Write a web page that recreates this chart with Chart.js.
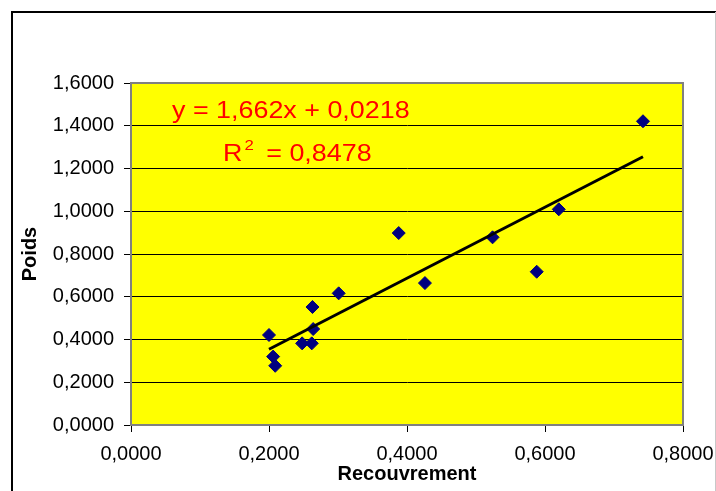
<!DOCTYPE html>
<html lang="fr">
<head>
<meta charset="utf-8">
<title>Poids en fonction du recouvrement</title>
<script src="https://cdn.jsdelivr.net/npm/chart.js@4.4.1/dist/chart.umd.min.js"></script>
<style>
  html, body { margin: 0; padding: 0; background: #fff; }
  #wrap { width: 716px; height: 491px; }
</style>
</head>
<body>
<div id="wrap"><canvas id="nuage" width="716" height="491"></canvas></div>
<script>
// Mesures : recouvrement (x) et poids (y)
const recouvrement = [0.200, 0.206, 0.209, 0.248, 0.262, 0.264, 0.263, 0.301, 0.388, 0.426, 0.524, 0.588, 0.620, 0.742];
const poids        = [0.421, 0.320, 0.277, 0.382, 0.382, 0.449, 0.552, 0.616, 0.898, 0.664, 0.878, 0.717, 1.009, 1.421];

// Courbe de tendance linéaire
const pente = 1.662;
const ordonnee = 0.0218;
const r2 = 0.8478;

// Libellés des axes
const xTicks = ['0,0000', '0,2000', '0,4000', '0,6000', '0,8000'];
const yTicks = ['0,0000', '0,2000', '0,4000', '0,6000', '0,8000', '1,0000', '1,2000', '1,4000', '1,6000'];

const FONT = "'Liberation Sans', Arial, sans-serif";
const ETIRE = 1.12; // texte légèrement élargi, comme dans Excel

const virgule = (v, n) => v.toFixed(n).replace('.', ',');

// Points de la droite aux extrémités des mesures
const xMin = Math.min(...recouvrement);
const xMax = Math.max(...recouvrement);
const droite = [xMin, xMax].map(x => ({ x, y: pente * x + ordonnee }));

// Écrit un texte élargi et renvoie sa largeur à l'écran
function texteLarge(ctx, txt, x, y, size) {
  ctx.save();
  ctx.translate(x, y);
  ctx.scale(ETIRE, 1);
  ctx.font = `${size}px ${FONT}`;
  ctx.fillText(txt, 0, 0);
  const w = ctx.measureText(txt).width * ETIRE;
  ctx.restore();
  return w;
}

// Cadre extérieur, fond jaune de la zone de tracé et équation
const cadrePlugin = {
  id: 'cadre',
  beforeDraw(chart) {
    const { ctx, chartArea: a, width, height } = chart;
    ctx.save();
    ctx.fillStyle = '#fff';
    ctx.fillRect(0, 0, width, height);
    ctx.strokeStyle = '#000';
    ctx.lineWidth = 2;
    ctx.beginPath();
    ctx.moveTo(12, height);
    ctx.lineTo(12, 12);
    ctx.lineTo(width, 12);
    ctx.stroke();
    ctx.strokeStyle = '#c8c8c8';
    ctx.lineWidth = 1;
    ctx.beginPath();
    ctx.moveTo(width - 0.5, 12);
    ctx.lineTo(width - 0.5, height);
    ctx.stroke();
    ctx.fillStyle = '#ffff00';
    ctx.fillRect(a.left, a.top, a.width, a.height);
    ctx.restore();
  },
  beforeDatasetsDraw(chart) {
    const { ctx, chartArea: a } = chart;
    ctx.save();
    ctx.strokeStyle = '#808080';
    ctx.lineWidth = 2;
    ctx.strokeRect(a.left, a.top, a.width, a.height);
    ctx.restore();
  },
  afterDatasetsDraw(chart) {
    const { ctx } = chart;
    ctx.save();
    ctx.fillStyle = '#ff0000';
    ctx.textBaseline = 'alphabetic';
    texteLarge(ctx, `y = ${virgule(pente, 3)}x + ${virgule(ordonnee, 4)}`, 172, 118, 24);
    let x = 223;
    x += texteLarge(ctx, 'R', x, 161, 24) + 2;
    x += texteLarge(ctx, '2', x, 150, 15) + 5;
    texteLarge(ctx, ` = ${virgule(r2, 4)}`, x, 161, 24);
    ctx.restore();
  }
};

new Chart(document.getElementById('nuage'), {
  type: 'scatter',
  data: {
    datasets: [
      {
        label: 'Poids',
        data: recouvrement.map((x, i) => ({ x, y: poids[i] })),
        pointStyle: 'rectRot',
        pointRadius: 6.5,
        backgroundColor: '#000080',
        borderColor: '#000080',
        borderWidth: 1,
        order: 1,
      },
      {
        label: 'Tendance',
        type: 'line',
        data: droite,
        showLine: true,
        borderColor: '#000',
        borderWidth: 3,
        pointRadius: 0,
        order: 0,
      }
    ]
  },
  options: {
    responsive: false,
    animation: false,
    layout: { padding: { top: 83, right: 33, bottom: 0, left: 0 } },
    plugins: {
      legend: { display: false },
      tooltip: { enabled: false },
    },
    scales: {
      x: {
        type: 'linear',
        min: 0,
        max: 0.8,
        afterFit: s => {
          s.height = 66;
          s.paddingLeft = 0;
          s.paddingRight = 0;
        },
        ticks: {
          stepSize: 0.2,
          maxRotation: 0,
          padding: 10,
          color: '#000',
          font: { family: FONT, size: 20 },
          callback: (v, i) => xTicks[i],
        },
        grid: { drawOnChartArea: false, tickLength: 7, tickColor: '#000' },
        border: { color: '#808080', width: 2 },
        title: {
          display: true,
          text: 'Recouvrement',
          color: '#000',
          font: { family: FONT, size: 20, weight: 'bold' },
          padding: { top: 0, bottom: 5 },
        },
      },
      y: {
        min: 0,
        max: 1.6,
        afterFit: s => {
          s.width = 131;
          s.paddingTop = 0;
          s.paddingBottom = 0;
        },
        ticks: {
          stepSize: 0.2,
          padding: 10,
          color: '#000',
          font: { family: FONT, size: 20 },
          callback: (v, i) => yTicks[i],
        },
        grid: { color: '#000', lineWidth: 1, tickLength: 7, tickColor: '#000' },
        border: { color: '#808080', width: 2 },
        title: {
          display: true,
          text: 'Poids',
          color: '#000',
          font: { family: FONT, size: 20, weight: 'bold' },
          padding: { top: 18, bottom: 0 },
        },
      }
    }
  },
  plugins: [cadrePlugin]
});
</script>
</body>
</html>
